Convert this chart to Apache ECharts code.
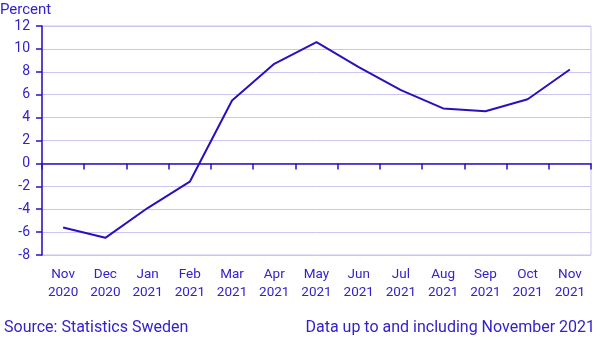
<!DOCTYPE html>
<html><head><meta charset="utf-8">
<script src="https://cdn.jsdelivr.net/npm/echarts@6/dist/echarts.min.js"></script>
<style>html,body{margin:0;padding:0;background:#fff}#c{width:606px;height:341px}</style>
</head><body><div id="c"></div>
<script>
const categories = ['Nov\n2020','Dec\n2020','Jan\n2021','Feb\n2021','Mar\n2021','Apr\n2021','May\n2021','Jun\n2021','Jul\n2021','Aug\n2021','Sep\n2021','Oct\n2021','Nov\n2021'];
const values = [-5.6, -6.5, -3.9, -1.6, 5.5, 8.7, 10.6, 8.4, 6.4, 4.8, 4.55, 5.6, 8.2];
const yTicks = {min: -8, max: 12, interval: 2};
const textColor = '#3322c8';
const lineColor = '#2a10bd';
const gridColor = '#c9c5ee';
const chart = echarts.init(document.getElementById('c'));
chart.setOption({
  animation: false,
  textStyle: {fontFamily: 'Roboto'},
  grid: {left: 42, right: 15, top: 26, bottom: 86, show: true, borderColor: gridColor, borderWidth: 1,
         containLabel: false, outerBoundsMode: 'none'},
  title: [
    {text: 'Percent', left: 0, top: 3, padding: 0, textStyle: {color: textColor, fontSize: 15, fontWeight: 'normal', fontFamily: 'Roboto'}},
    {text: 'Source: Statistics Sweden', left: 4, top: 320, padding: 0, textStyle: {color: textColor, fontSize: 16, fontWeight: 'normal', fontFamily: 'Roboto'}},
    {text: 'Data up to and including November 2021', right: 11, top: 320, padding: 0, textStyle: {color: textColor, fontSize: 16, fontWeight: 'normal', fontFamily: 'Roboto'}}
  ],
  xAxis: [
    {type: 'category', data: categories, boundaryGap: true, position: 'bottom',
     axisLine: {show: false, onZero: false}, axisTick: {show: false},
     axisLabel: {color: textColor, fontSize: 13.5, lineHeight: 18, margin: 11}},
    {type: 'category', data: categories, boundaryGap: true, position: 'bottom',
     axisLine: {show: true, onZero: true, onZeroAxisIndex: 0, lineStyle: {color: lineColor, width: 1.5}},
     axisTick: {show: true, length: 6, lineStyle: {color: lineColor, width: 1.5}},
     axisLabel: {show: false}}
  ],
  yAxis: {type: 'value', min: yTicks.min, max: yTicks.max, interval: yTicks.interval,
    axisLine: {show: true, lineStyle: {color: lineColor, width: 1.5}},
    axisTick: {show: true, length: 6, inside: false, lineStyle: {color: lineColor, width: 1.5}},
    axisLabel: {color: textColor, fontSize: 14, margin: 12},
    splitLine: {show: true, lineStyle: {color: gridColor, width: 1}}},
  series: [
    {type: 'line', data: values, xAxisIndex: 0, symbol: 'none', lineStyle: {color: lineColor, width: 2}, z: 3},
    {type: 'line', data: [], xAxisIndex: 1, symbol: 'none'}
  ]
});
</script></body></html>
